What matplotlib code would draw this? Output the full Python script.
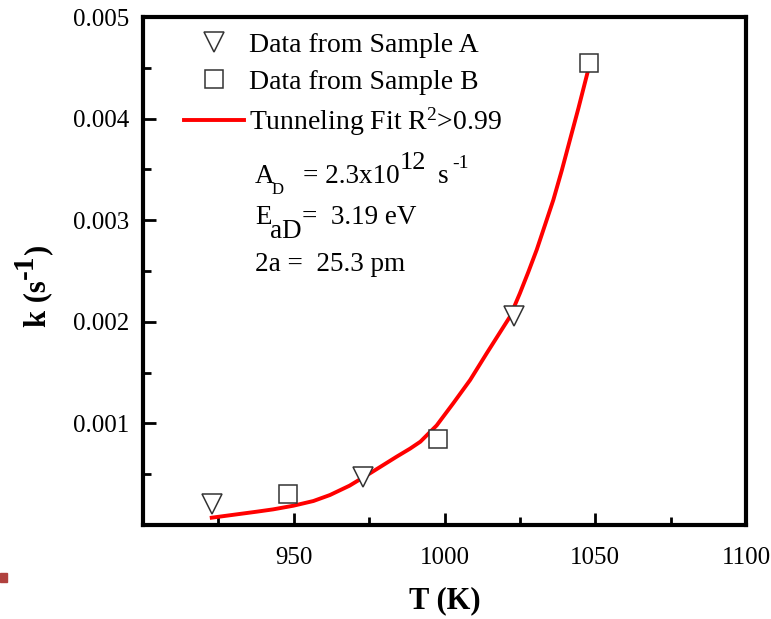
import numpy as np
import matplotlib
matplotlib.use('Agg')
import matplotlib.pyplot as plt
from matplotlib.ticker import MultipleLocator, FormatStrFormatter
from matplotlib.patches import Rectangle

# Fonts: Times-like serif everywhere, including mathtext.
plt.rcParams['font.family'] = ['Liberation Serif', 'DejaVu Serif']
plt.rcParams['mathtext.fontset'] = 'custom'
plt.rcParams['mathtext.rm'] = 'Liberation Serif'
plt.rcParams['mathtext.it'] = 'Liberation Serif:italic'
plt.rcParams['mathtext.bf'] = 'Liberation Serif:bold'

######## DATA #######
T_A = [923, 973, 1023]
k_A = [0.00021, 0.00047, 0.00206]

T_B = [948, 998, 1048]
k_B = [0.000305, 0.000850, 0.00455]

# Tunneling fit curve, sampled by eye along the red line
T_fit = [922.8, 937.7, 943.2, 949.9, 956.5, 962.0, 968.5, 975.3, 984.1, 988.6,
         992.0, 997.4, 1002.9, 1008.5, 1014.0, 1021.7, 1025.0, 1027.8, 1030.6,
         1033.3, 1036.1, 1038.9, 1041.6, 1044.4, 1047.5]
k_fit = [0.000072, 0.000131, 0.000154, 0.00019, 0.000236, 0.000295, 0.000387,
         0.000509, 0.000672, 0.000752, 0.00082, 0.00098, 0.001198, 0.001427,
         0.00169, 0.00205, 0.00228, 0.00249, 0.00271, 0.00295, 0.00320,
         0.00349, 0.00379, 0.00410, 0.00446]

xticks = [950, 1000, 1050, 1100]
yticks = [0.001, 0.002, 0.003, 0.004, 0.005]
############################################

W, H = 771, 619
fig = plt.figure(figsize=(W / 100, H / 100), dpi=100)
ax = fig.add_axes([143 / W, 1 - 525 / H, 603 / W, 508 / H])


def put(x, y, s, size, **kw):
    # place text by pixel position (x from left, y = baseline from top)
    return fig.text(x / W, 1 - y / H, s, fontsize=size, ha='left', va='baseline', **kw)


ax.plot(T_fit, k_fit, color='#ff0000', lw=2.8, label=r'Tunneling Fit R$^2$>0.99', zorder=2)
ax.plot(T_A, k_A, ls='none', marker='v', ms=15, mfc='white', mec='#333333', mew=1.1,
        label='Data from Sample A', zorder=3)
ax.plot(T_B, k_B, ls='none', marker='s', ms=12.5, mfc='white', mec='#333333', mew=1.1,
        label='Data from Sample B', zorder=3)

ax.set_xlim(900, 1100)
ax.set_ylim(0, 0.005)
ax.set_xticks(xticks)
ax.set_yticks(yticks)
ax.xaxis.set_minor_locator(MultipleLocator(25))
ax.yaxis.set_minor_locator(MultipleLocator(0.0005))
ax.yaxis.set_major_formatter(FormatStrFormatter('%.3f'))

for s in ax.spines.values():
    s.set_linewidth(3)
ax.tick_params(which='both', direction='in', top=False, right=False, width=2)
ax.tick_params(which='major', length=9, labelsize=18)
ax.tick_params(axis='x', which='major', pad=16)
ax.tick_params(axis='y', which='major', pad=10)
ax.tick_params(which='minor', length=6)

ax.set_xlabel('T (K)', fontsize=22, fontweight='bold', labelpad=12)

# y label built in pieces so the -1 exponent stays large
rot = dict(rotation=90, rotation_mode='anchor', fontweight='bold')
put(45, 327, 'k (s', 22, **rot)
put(33, 279, '-1', 21, **rot)
put(45, 254, ')', 22, **rot)

# Legend: order A, B, fit
h, l = ax.get_legend_handles_labels()
order = [1, 2, 0]
ax.legend([h[i] for i in order], [l[i] for i in order], loc='upper left',
          bbox_to_anchor=(0.068, 0.969), frameon=False, fontsize=20,
          handlelength=2.15, handletextpad=0.2, labelspacing=0.4,
          borderpad=0, borderaxespad=0)

# Fit parameters
put(255, 183, 'A', 19.5)
put(272, 194, 'D', 12)
put(303, 183, '= 2.3x10', 19.5)
put(400, 169, '12', 19)
put(438, 183, 's', 19.5)
put(452, 168, '-1', 14)

put(255, 224, 'E', 19.5)
put(270, 238, 'aD', 19.5)
put(302, 224, '=  3.19 eV', 19.5)

put(255, 271, '2a =  25.3 pm', 19.5)

# small slide-edge mark at the lower left
fig.patches.append(Rectangle((0, 1 - 582 / H), 7 / W, 9 / H, transform=fig.transFigure,
                             color='#b0413e', zorder=5))

fig.savefig('out.png', dpi=100)
